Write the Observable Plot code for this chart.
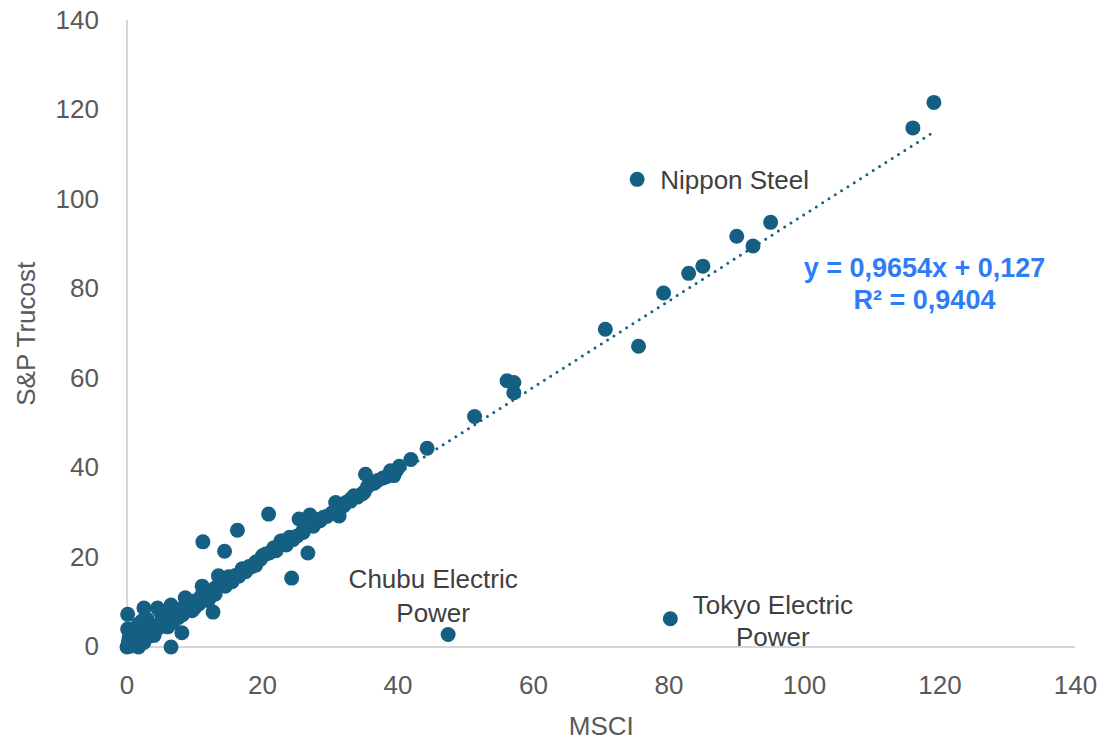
<!DOCTYPE html>
<html>
<head>
<meta charset="utf-8">
<script src="https://cdn.jsdelivr.net/npm/d3@7"></script>
<script src="https://cdn.jsdelivr.net/npm/@observablehq/plot@0.6"></script>
<style>
  html, body { margin: 0; padding: 0; background: #ffffff; }
  #chart svg { display: block; }
</style>
</head>
<body>
<div id="chart"></div>
<script>
// --- Data ---
const companyNames = ["Nippon Steel", "Chubu Electric\nPower", "Tokyo Electric\nPower"];
const companyMsci = [75.3, 47.4, 80.2];
const companyTrucost = [104.5, 2.8, 6.3];

const msci = [
  119.1, 116.0, 95.0, 90.0, 92.4, 85.0, 82.9, 79.2, 70.6, 75.5,
  56.1, 57.1, 57.1, 51.3, 44.3, 41.9, 40.2, 38.9, 39.4, 37.7,
  35.2, 35.5, 34.7, 33.5, 32.3, 30.8, 30.3, 31.3, 27.0, 25.4,
  27.3, 25.1, 22.9, 21.7, 20.0, 20.9, 16.3, 11.2, 14.4, 26.7,
  24.3, 12.7, 8.1, 6.5, 0.1, 2.5, 4.5, 6.5, 8.6, 11.1,
  13.5, 17.7, 19.7, 22.7,
  36.0, 33.0, 29.0, 28.0, 26.0, 24.0, 23.0, 21.0, 19.0, 18.0,
  17.0, 16.0, 15.0, 14.0, 13.0, 12.0, 11.0, 10.0, 9.0, 8.0,
  7.0, 6.0, 5.0, 4.0, 3.0, 2.0, 1.0, 0.5, 0.0, 0.2,
  0.3, 0.1, 1.7, 2.5, 1.7, 3.2, 4.7, 6.2, 7.6, 9.6,
  10.6, 12.1, 0.5, 1.0, 0.8, 2.0, 3.5, 5.5, 6.8, 8.2,
  9.0, 14.5, 15.5, 16.5, 17.5, 18.5, 19.0, 20.5, 22.0, 23.5,
  24.5, 26.0, 27.5, 28.5, 29.5, 31.0, 32.0, 33.0, 34.0, 35.0,
  36.5, 37.0, 38.2, 39.8, 13.0, 12.0, 15.0, 3.0, 5.0, 7.5,
  2.2, 1.0, 4.0, 6.0, 10.0
];
const trucost = [
  121.7, 116.0, 94.9, 91.8, 89.6, 85.1, 83.5, 79.1, 71.0, 67.2,
  59.5, 59.1, 56.8, 51.5, 44.4, 41.9, 40.4, 39.4, 38.3, 37.7,
  38.6, 35.8, 34.2, 33.8, 32.3, 32.3, 30.0, 29.3, 29.5, 28.6,
  27.4, 24.8, 23.7, 22.2, 20.4, 29.7, 26.1, 23.5, 21.4, 21.0,
  15.4, 7.8, 3.2, 0.0, 7.3, 8.7, 8.7, 9.4, 11.0, 13.6,
  15.9, 17.4, 19.6, 23.7,
  36.5, 33.0, 29.0, 28.5, 26.0, 24.5, 23.0, 21.0, 19.0, 18.0,
  17.5, 16.0, 15.3, 14.0, 13.2, 12.0, 11.5, 10.3, 9.5, 8.5,
  7.5, 6.2, 5.5, 4.3, 3.5, 2.5, 1.5, 0.5, 0.0, 1.0,
  2.0, 4.0, 0.0, 1.0, 5.1, 3.6, 4.3, 6.6, 6.6, 8.1,
  9.6, 11.0, 0.2, 0.5, 3.0, 1.8, 2.5, 4.8, 5.5, 7.2,
  10.4, 13.6, 14.6, 15.8, 16.8, 18.0, 18.3, 20.8, 21.5, 22.8,
  24.0, 25.6, 27.0, 28.2, 29.2, 30.8, 31.6, 32.6, 33.5, 34.6,
  36.6, 37.2, 38.0, 39.5, 11.8, 10.4, 15.7, 6.2, 7.6, 8.4,
  5.8, 4.0, 2.6, 4.5, 8.8
];

const axisTicks = [0, 20, 40, 60, 80, 100, 120, 140];
const trendSlope = 0.9654;
const trendIntercept = 0.127;
const equationText = "y = 0,9654x + 0,127\nR² = 0,9404";
const xTitle = "MSCI";
const yTitle = "S&P Trucost";

// --- Build tables ---
const points = msci.map((m, i) => ({msci: m, trucost: trucost[i]}))
  .concat(companyMsci.map((m, i) => ({msci: m, trucost: companyTrucost[i]})));
const companies = companyNames.map((name, i) => ({name, msci: companyMsci[i], trucost: companyTrucost[i]}));
const [xMin, xMax] = d3.extent(points, d => d.msci);
const trend = [xMin, xMax].map(x => ({msci: x, trucost: trendSlope * x + trendIntercept}));

const dotColor = "#156082";
const axisColor = "#595959";
const labelColor = "#404040";

const chart = Plot.plot({
  width: 1099,
  height: 740,
  marginLeft: 126.5,
  marginRight: 24,
  marginTop: 20,
  marginBottom: 93.5,
  style: {fontFamily: "'Liberation Sans', Arial, sans-serif", fontSize: "26px", color: axisColor, background: "#ffffff"},
  x: {domain: [0, 140]},
  y: {domain: [0, 140]},
  marks: [
    Plot.ruleX([0], {y1: 0, y2: 140, stroke: "#c8c8c8", strokeWidth: 1.5}),
    Plot.ruleY([0], {x1: 0, x2: 140, stroke: "#c8c8c8", strokeWidth: 1.5}),
    Plot.axisX({ticks: axisTicks, tickSize: 0, tickPadding: 29, label: null, fontSize: 26, fill: axisColor}),
    Plot.axisY({ticks: axisTicks, tickSize: 0, tickPadding: 28, label: null, fontSize: 26, fill: axisColor}),
    Plot.dot(points, {x: "msci", y: "trucost", r: 7.5, fill: dotColor, stroke: "none"}),
    Plot.line(trend, {x: "msci", y: "trucost", stroke: dotColor, strokeWidth: 3,
      strokeDasharray: "0 7.5", strokeLinecap: "round"}),
    Plot.text([companies[0]], {x: "msci", y: "trucost", text: "name", textAnchor: "start",
      dx: 23, dy: 1, fontSize: 26, fill: labelColor}),
    Plot.text([companies[1]], {x: "msci", y: "trucost", text: "name", textAnchor: "middle",
      lineAnchor: "middle", lineHeight: 1.3, dx: -15, dy: -40, fontSize: 26, fill: labelColor}),
    Plot.text([companies[2]], {x: "msci", y: "trucost", text: "name", textAnchor: "middle",
      lineAnchor: "middle", lineHeight: 1.25, dx: 102.5, dy: 1, fontSize: 26, fill: labelColor}),
    Plot.text([equationText], {frameAnchor: "top-right", text: d => d, textAnchor: "middle",
      lineAnchor: "middle", lineHeight: 1.2, dx: -151, dy: 262, fontSize: 27, fontWeight: "bold", fill: "#2e7cf6"}),
    Plot.text([xTitle], {frameAnchor: "bottom", text: d => d, lineAnchor: "middle", dy: 80,
      fontSize: 26, fill: axisColor}),
    Plot.text([yTitle], {frameAnchor: "left", text: d => d, rotate: -90, lineAnchor: "middle",
      textAnchor: "middle", dx: -100.5, fontSize: 26, fill: axisColor})
  ]
});

document.getElementById("chart").appendChild(chart);
</script>
</body>
</html>
